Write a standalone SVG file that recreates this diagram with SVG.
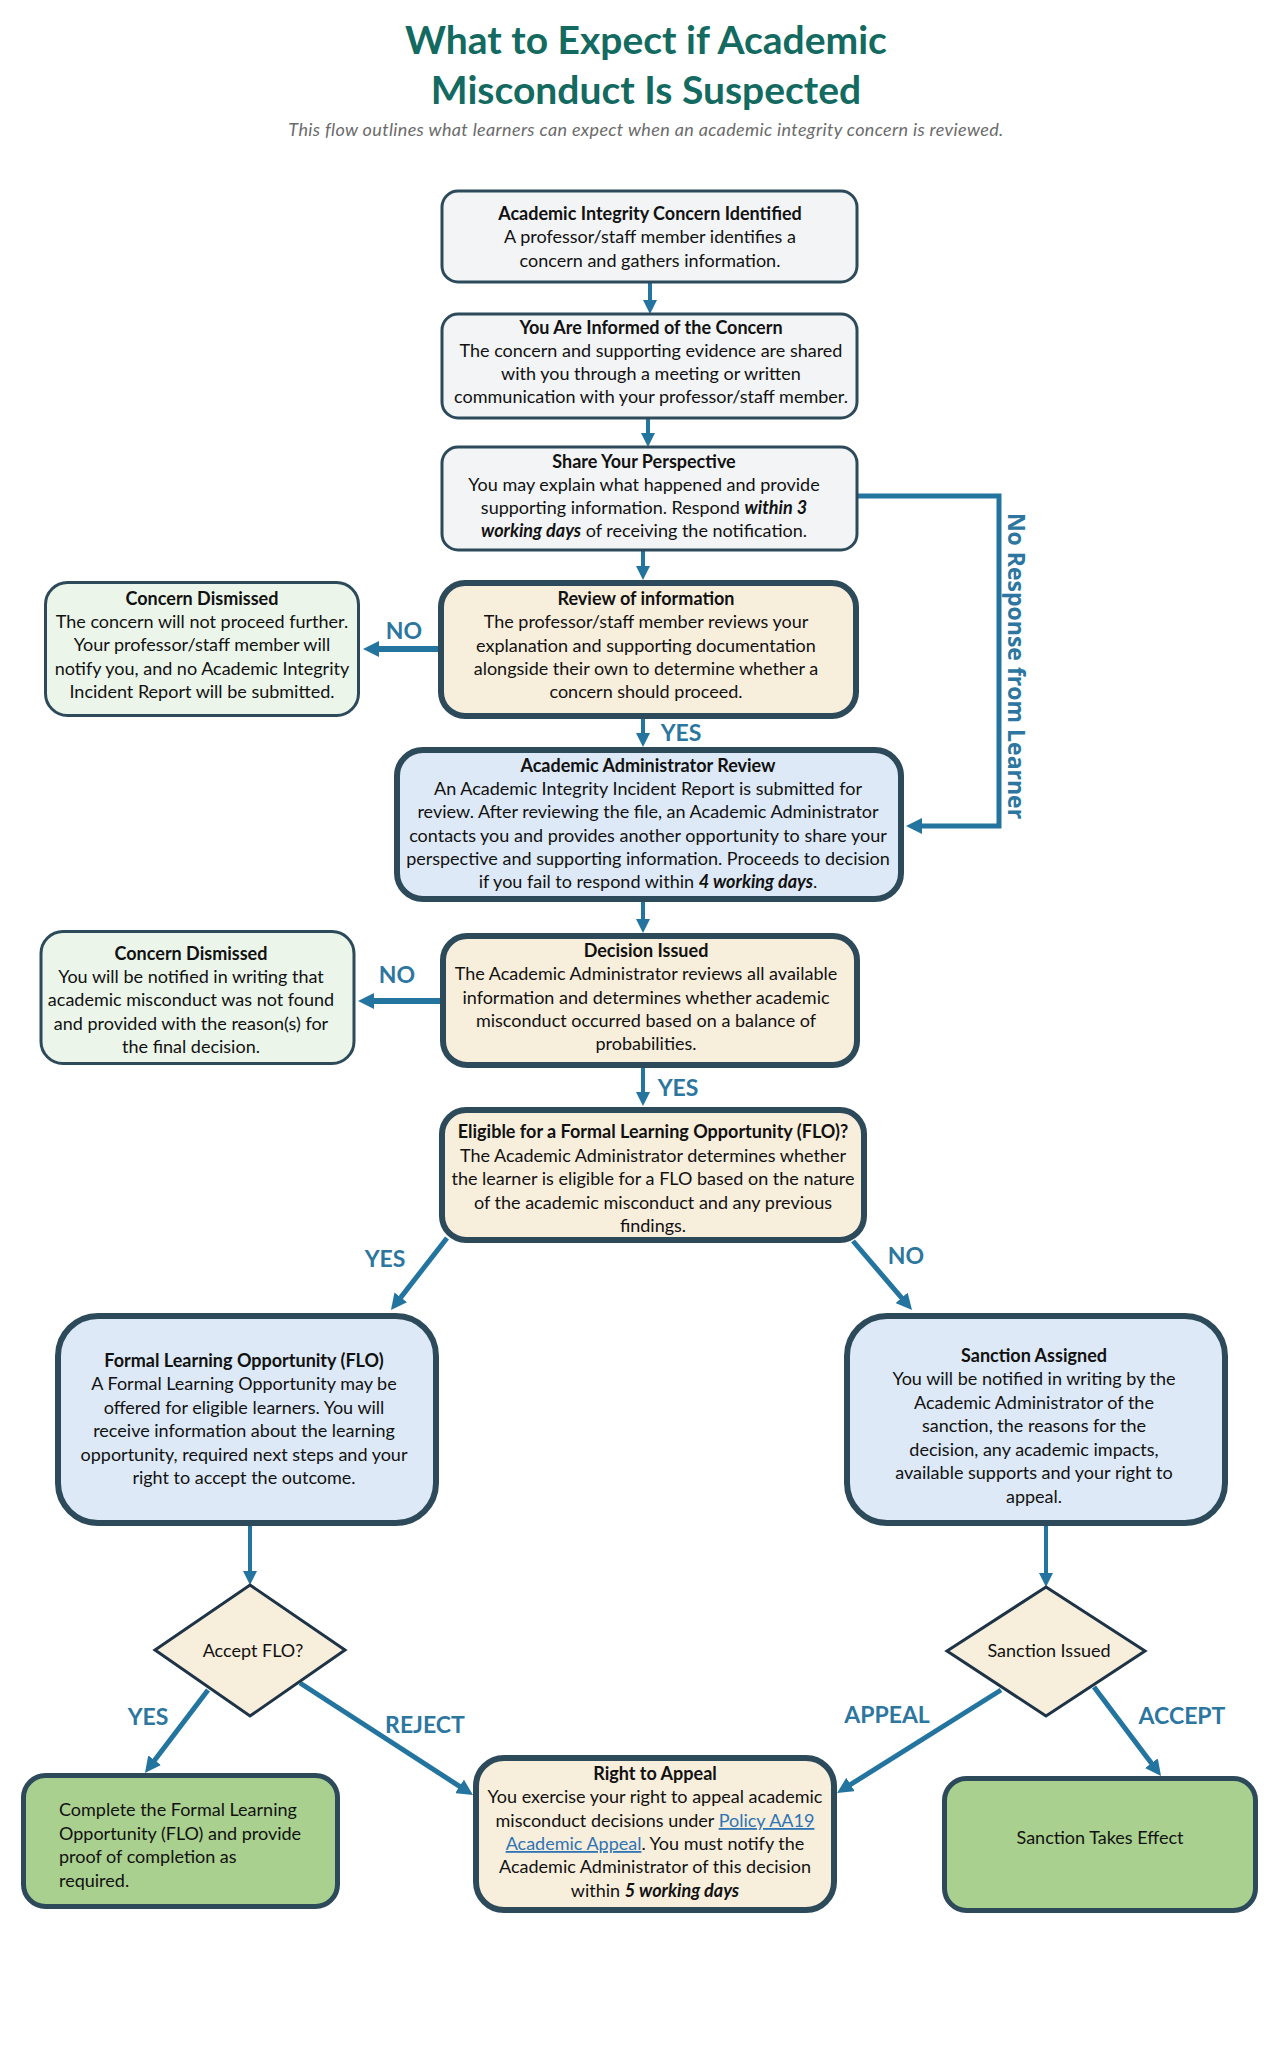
<svg xmlns="http://www.w3.org/2000/svg" width="1280" height="2048" viewBox="0 0 1280 2048">
<defs>
<style>
.t{font-family:Lato,"Liberation Sans",sans-serif;font-size:18px;fill:#111;text-anchor:middle}
.tl{font-family:Lato,"Liberation Sans",sans-serif;font-size:18px;fill:#111;text-anchor:start}
.b{font-weight:bold}
.bi{font-weight:bold;font-style:italic}
.lnk{fill:#2e74b5;text-decoration:underline}
.lbl{font-family:Lato,"Liberation Sans",sans-serif;font-weight:bold;font-size:23px;fill:#2c76a0;text-anchor:middle}
.con{stroke:#23759f;fill:none}
.gray{fill:#f2f4f6;stroke:#2d4a5b;stroke-width:3}
.cream{fill:#f8eedc;stroke:#2d4a5b;stroke-width:6}
.blue{fill:#dde9f6;stroke:#2d4a5b;stroke-width:6}
.lgreen{fill:#ebf5ea;stroke:#2d4a5b;stroke-width:3}
.green{fill:#a9d08e;stroke:#2d4a5b;stroke-width:5}
.dia{fill:#f8eedc;stroke:#1f3347;stroke-width:3}
</style>
<marker id="ah" markerUnits="userSpaceOnUse" markerWidth="16" markerHeight="16" viewBox="0 0 16 16" refX="6" refY="8" orient="auto">
<path d="M0,0 L16,8 L0,16 z" fill="#23759f"/>
</marker>
<marker id="ahs" markerUnits="userSpaceOnUse" markerWidth="14" markerHeight="14" viewBox="0 0 14 14" refX="5" refY="7" orient="auto">
<path d="M0,0 L14,7 L0,14 z" fill="#23759f"/>
</marker>
</defs>
<rect width="1280" height="2048" fill="#ffffff"/>

<g id="title">
<text x="646" y="54" style="font-family:Lato,'Liberation Sans',sans-serif;font-weight:bold;font-size:39px;fill:#136a60;text-anchor:middle">What to Expect if Academic</text>
<text x="646" y="104" style="font-family:Lato,'Liberation Sans',sans-serif;font-weight:bold;font-size:39px;fill:#136a60;text-anchor:middle">Misconduct Is Suspected</text>
<text x="646" y="136" style="font-family:Lato,'Liberation Sans',sans-serif;font-style:italic;font-size:18px;letter-spacing:0.35px;fill:#6b6b6b;text-anchor:middle">This flow outlines what learners can expect when an academic integrity concern is reviewed.</text>
</g>

<g id="connectors">
<line class="con" x1="650" y1="282" x2="650" y2="305" stroke-width="4" marker-end="url(#ahs)"/>
<line class="con" x1="648" y1="418" x2="648" y2="438" stroke-width="4" marker-end="url(#ahs)"/>
<line class="con" x1="643" y1="550" x2="643" y2="571" stroke-width="4" marker-end="url(#ahs)"/>
<line class="con" x1="438" y1="649" x2="373" y2="649" stroke-width="6" marker-end="url(#ah)"/>
<line class="con" x1="643" y1="719" x2="643" y2="738" stroke-width="4" marker-end="url(#ahs)"/>
<polyline class="con" points="858,496 999,496 999,826 916,826" stroke-width="5" marker-end="url(#ah)"/>
<line class="con" x1="643" y1="902" x2="643" y2="924" stroke-width="4" marker-end="url(#ahs)"/>
<line class="con" x1="440" y1="1001" x2="368" y2="1001" stroke-width="6" marker-end="url(#ah)"/>
<line class="con" x1="643" y1="1068" x2="643" y2="1097" stroke-width="4" marker-end="url(#ahs)"/>
<line class="con" x1="447" y1="1238" x2="397.1" y2="1302.1" stroke-width="5" marker-end="url(#ah)"/>
<line class="con" x1="853" y1="1241" x2="905.5" y2="1302.4" stroke-width="5" marker-end="url(#ah)"/>
<line class="con" x1="250" y1="1526" x2="250" y2="1576" stroke-width="4" marker-end="url(#ahs)"/>
<line class="con" x1="1046" y1="1526" x2="1046" y2="1578" stroke-width="4" marker-end="url(#ahs)"/>
<line class="con" x1="208" y1="1690" x2="151" y2="1765" stroke-width="5" marker-end="url(#ah)"/>
<line class="con" x1="300" y1="1683" x2="464.6" y2="1789.6" stroke-width="5" marker-end="url(#ah)"/>
<line class="con" x1="1001" y1="1690" x2="845.5" y2="1787.7" stroke-width="5" marker-end="url(#ah)"/>
<line class="con" x1="1094" y1="1687" x2="1155" y2="1768" stroke-width="5" marker-end="url(#ah)"/>
<text class="lbl" x="404" y="639">NO</text>
<text class="lbl" x="681" y="741">YES</text>
<text x="1008" y="666" transform="rotate(90 1008 666)" style="font-family:'Open Sans','DejaVu Sans',sans-serif;font-weight:bold;font-size:23px;fill:#2c76a0;text-anchor:middle">No Response from Learner</text>
<text class="lbl" x="397" y="983">NO</text>
<text class="lbl" x="678" y="1096">YES</text>
<text class="lbl" x="385" y="1267">YES</text>
<text class="lbl" x="906" y="1264">NO</text>
<text class="lbl" x="148" y="1725">YES</text>
<text class="lbl" x="425" y="1733">REJECT</text>
<text class="lbl" x="887" y="1723">APPEAL</text>
<text class="lbl" x="1182" y="1724">ACCEPT</text>
</g>

<g id="n-identified">
<rect class="gray" x="442" y="191" width="415" height="91" rx="16"/>
<text class="t b" x="650" y="220">Academic Integrity Concern Identified</text>
<text class="t" x="650" y="243">A professor/staff member identifies a</text>
<text class="t" x="650" y="267">concern and gathers information.</text>
</g>

<g id="n-informed">
<rect class="gray" x="442" y="314" width="415" height="104" rx="16"/>
<text class="t b" x="651" y="334">You Are Informed of the Concern</text>
<text class="t" x="651" y="357">The concern and supporting evidence are shared</text>
<text class="t" x="651" y="380">with you through a meeting or written</text>
<text class="t" x="651" y="403">communication with your professor/staff member.</text>
</g>

<g id="n-share">
<rect class="gray" x="442" y="447" width="415" height="103" rx="16"/>
<text class="t b" x="644" y="468">Share Your Perspective</text>
<text class="t" x="644" y="491">You may explain what happened and provide</text>
<text class="t" x="644" y="514">supporting information. Respond <tspan class="bi">within 3</tspan></text>
<text class="t" x="644" y="537"><tspan class="bi">working days</tspan> of receiving the notification.</text>
</g>

<g id="n-review">
<rect class="cream" x="441" y="583" width="415" height="133" rx="24"/>
<text class="t b" x="646" y="605">Review of information</text>
<text class="t" x="646" y="628">The professor/staff member reviews your</text>
<text class="t" x="646" y="652">explanation and supporting documentation</text>
<text class="t" x="646" y="675">alongside their own to determine whether a</text>
<text class="t" x="646" y="698">concern should proceed.</text>
</g>

<g id="n-dismissed1">
<rect class="lgreen" x="45.5" y="582.5" width="313" height="133" rx="22"/>
<text class="t b" x="202" y="605">Concern Dismissed</text>
<text class="t" x="202" y="628">The concern will not proceed further.</text>
<text class="t" x="202" y="651">Your professor/staff member will</text>
<text class="t" x="202" y="675">notify you, and no Academic Integrity</text>
<text class="t" x="202" y="698">Incident Report will be submitted.</text>
</g>

<g id="n-admin">
<rect class="blue" x="397" y="750" width="504" height="149" rx="26"/>
<text class="t b" x="648" y="772">Academic Administrator Review</text>
<text class="t" x="648" y="795">An Academic Integrity Incident Report is submitted for</text>
<text class="t" x="648" y="818">review. After reviewing the file, an Academic Administrator</text>
<text class="t" x="648" y="842">contacts you and provides another opportunity to share your</text>
<text class="t" x="648" y="865">perspective and supporting information. Proceeds to decision</text>
<text class="t" x="648" y="888">if you fail to respond within <tspan class="bi">4 working days</tspan>.</text>
</g>

<g id="n-decision">
<rect class="cream" x="443" y="936" width="414" height="129" rx="24"/>
<text class="t b" x="646" y="957">Decision Issued</text>
<text class="t" x="646" y="980">The Academic Administrator reviews all available</text>
<text class="t" x="646" y="1004">information and determines whether academic</text>
<text class="t" x="646" y="1027">misconduct occurred based on a balance of</text>
<text class="t" x="646" y="1050">probabilities.</text>
</g>

<g id="n-dismissed2">
<rect class="lgreen" x="41" y="931.5" width="313" height="132" rx="22"/>
<text class="t b" x="191" y="960">Concern Dismissed</text>
<text class="t" x="191" y="983">You will be notified in writing that</text>
<text class="t" x="191" y="1006">academic misconduct was not found</text>
<text class="t" x="191" y="1030">and provided with the reason(s) for</text>
<text class="t" x="191" y="1053">the final decision.</text>
</g>

<g id="n-eligible">
<rect class="cream" x="442" y="1110" width="422" height="130" rx="24"/>
<text class="t b" x="653" y="1138">Eligible for a Formal Learning Opportunity (FLO)?</text>
<text class="t" x="653" y="1162">The Academic Administrator determines whether</text>
<text class="t" x="653" y="1185">the learner is eligible for a FLO based on the nature</text>
<text class="t" x="653" y="1209">of the academic misconduct and any previous</text>
<text class="t" x="653" y="1232">findings.</text>
</g>

<g id="n-flo">
<rect class="blue" x="58" y="1316" width="378" height="207" rx="40"/>
<text class="t b" x="244" y="1367">Formal Learning Opportunity (FLO)</text>
<text class="t" x="244" y="1390">A Formal Learning Opportunity may be</text>
<text class="t" x="244" y="1414">offered for eligible learners. You will</text>
<text class="t" x="244" y="1437">receive information about the learning</text>
<text class="t" x="244" y="1461">opportunity, required next steps and your</text>
<text class="t" x="244" y="1484">right to accept the outcome.</text>
</g>

<g id="n-sanction">
<rect class="blue" x="847" y="1316" width="378" height="207" rx="40"/>
<text class="t b" x="1034" y="1362">Sanction Assigned</text>
<text class="t" x="1034" y="1385">You will be notified in writing by the</text>
<text class="t" x="1034" y="1409">Academic Administrator of the</text>
<text class="t" x="1034" y="1432">sanction, the reasons for the</text>
<text class="t" x="1034" y="1456">decision, any academic impacts,</text>
<text class="t" x="1034" y="1479">available supports and your right to</text>
<text class="t" x="1034" y="1503">appeal.</text>
</g>

<g id="n-acceptflo">
<polygon class="dia" points="250,1585 345,1650 250,1716 155,1650"/>
<text class="t" x="253" y="1657">Accept FLO?</text>
</g>

<g id="n-sanctionissued">
<polygon class="dia" points="1046,1587 1145,1651 1046,1716 947,1651"/>
<text class="t" x="1049" y="1657">Sanction Issued</text>
</g>

<g id="n-complete">
<rect class="green" x="23.5" y="1775.5" width="314" height="131" rx="22"/>
<text class="tl" x="59" y="1816">Complete the Formal Learning</text>
<text class="tl" x="59" y="1840">Opportunity (FLO) and provide</text>
<text class="tl" x="59" y="1863">proof of completion as</text>
<text class="tl" x="59" y="1887">required.</text>
</g>

<g id="n-appeal">
<rect class="cream" x="476" y="1758" width="358" height="152" rx="28"/>
<text class="t b" x="655" y="1780">Right to Appeal</text>
<text class="t" x="655" y="1803">You exercise your right to appeal academic</text>
<text class="t" x="655" y="1827">misconduct decisions under <tspan class="lnk">Policy AA19</tspan></text>
<text class="t" x="655" y="1850"><tspan class="lnk">Academic Appeal</tspan>. You must notify the</text>
<text class="t" x="655" y="1873">Academic Administrator of this decision</text>
<text class="t" x="655" y="1897">within <tspan class="bi">5 working days</tspan></text>
</g>

<g id="n-effect">
<rect class="green" x="944.5" y="1778.5" width="311" height="132" rx="22"/>
<text class="t" x="1100" y="1844">Sanction Takes Effect</text>
</g>
</svg>
